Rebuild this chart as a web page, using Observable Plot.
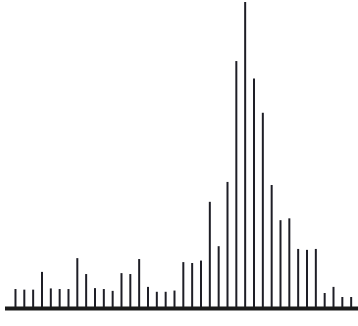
<!DOCTYPE html>
<html>
<head>
<meta charset="utf-8">
<script src="https://cdn.jsdelivr.net/npm/d3@7"></script>
<script src="https://cdn.jsdelivr.net/npm/@observablehq/plot@0.6"></script>
<style>
  html, body { margin: 0; padding: 0; background: #fff; }
</style>
</head>
<body>
<div id="chart"></div>
<script>
// Peak index (1..39) and relative intensity (max = 100)
const peaks = [1,2,3,4,5,6,7,8,9,10,11,12,13,14,15,16,17,18,19,20,21,22,23,24,25,26,27,28,29,30,31,32,33,34,35,36,37,38,39];
const intensity = [6.2,6.0,6.0,11.8,6.4,6.2,6.2,16.3,11.1,6.5,6.2,5.6,11.4,11.1,16.0,6.9,5.3,5.3,5.7,15.0,14.7,15.5,34.7,20.2,41.2,80.7,100,75.0,63.8,40.2,28.7,29.3,19.3,19.0,19.3,4.9,6.9,3.6,3.6];

const data = peaks.map((p, i) => ({peak: p, value: intensity[i]}));

const chart = Plot.plot({
  width: 358,
  height: 326,
  marginLeft: 5,
  marginRight: 0,
  marginTop: 2,
  marginBottom: 18,
  x: {domain: [-0.13, 39.83], axis: null},
  y: {domain: [0, 100], axis: null},
  marks: [
    Plot.ruleX(data, {x: "peak", y1: 0, y2: "value", stroke: "#1e1e26", strokeWidth: 2}),
    Plot.ruleY([0], {stroke: "#1a1a1a", strokeWidth: 4})
  ]
});
document.getElementById("chart").appendChild(chart);
</script>
</body>
</html>
